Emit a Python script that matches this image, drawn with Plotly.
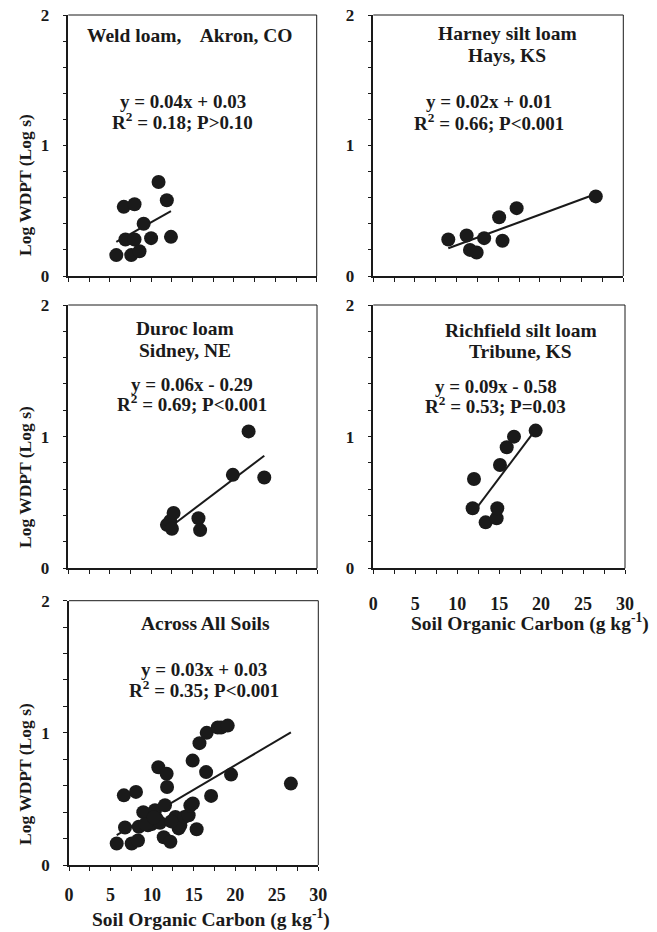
import numpy as np
import plotly.graph_objects as go

# ---------------- data ----------------
weld_x = [5.8, 6.7, 8.0, 6.9, 8.0, 7.6, 8.6, 9.1, 10.0, 10.9, 11.9, 12.4]
weld_y = [0.16, 0.53, 0.55, 0.28, 0.28, 0.16, 0.19, 0.40, 0.29, 0.72, 0.58, 0.30]

harney_x = [9.0, 11.2, 11.6, 12.4, 13.3, 15.1, 15.5, 17.2, 26.7]
harney_y = [0.28, 0.31, 0.20, 0.18, 0.29, 0.45, 0.27, 0.52, 0.61]

duroc_x = [11.9, 12.3, 12.5, 12.7, 15.7, 15.9, 19.85, 21.75, 23.64]
duroc_y = [0.33, 0.36, 0.30, 0.42, 0.38, 0.29, 0.71, 1.04, 0.69]

rich_x = [11.84, 12.0, 13.39, 14.7, 14.78, 15.1, 15.9, 16.77, 19.35]
rich_y = [0.456, 0.678, 0.349, 0.38, 0.456, 0.785, 0.919, 1.0, 1.046]

all_x = [5.74, 7.54, 8.3, 6.6, 8.06, 6.74, 8.4, 8.94, 9.5, 9.95, 10.35, 10.55,
         10.95, 11.55, 10.75, 11.75, 11.8, 11.4, 12.2, 12.8, 13.2, 13.4, 13.9,
         14.4, 14.6, 14.9, 15.36, 14.88, 15.7, 16.57, 16.5, 17.1, 17.9, 18.3,
         19.1, 19.5, 26.7, 12.3, 9.2, 10.2]
all_y = [0.163, 0.163, 0.185, 0.527, 0.553, 0.284, 0.289, 0.40, 0.30, 0.31,
         0.414, 0.35, 0.32, 0.452, 0.74, 0.69, 0.59, 0.21, 0.176, 0.364, 0.277,
         0.30, 0.364, 0.377, 0.45, 0.465, 0.27, 0.79, 0.922, 1.0, 0.703, 0.523,
         1.04, 1.04, 1.055, 0.684, 0.616, 0.33, 0.31, 0.36]

titles = [["Weld loam,    Akron, CO"],
          ["Harney silt loam", "Hays, KS"],
          ["Duroc loam", "Sidney, NE"],
          ["Richfield silt loam", "Tribune, KS"],
          ["Across All Soils"]]
equations = [["y = 0.04x + 0.03", "R<sup>2</sup> = 0.18; P>0.10"],
             ["y = 0.02x + 0.01", "R<sup>2</sup> = 0.66; P<0.001"],
             ["y = 0.06x - 0.29", "R<sup>2</sup> = 0.69; P<0.001"],
             ["y = 0.09x - 0.58", "R<sup>2</sup> = 0.53; P=0.03"],
             ["y = 0.03x + 0.03", "R<sup>2</sup> = 0.35; P<0.001"]]

y_title = "Log WDPT (Log s)"
x_title = "Soil Organic Carbon (g kg<sup>-1</sup>)"

# ---------------- layout geometry (pixels in the final page) ----------------
W, H = 657, 932
OFF = 8  # default page (body) margin in the browser
# (left, right, top, bottom) of each plot area in px (page coordinates)
boxes = [(68.3, 316.7, 15, 276),
         (373.3, 623.3, 15, 276),
         (68.3, 317.0, 305, 568.3),
         (373.3, 625.0, 305, 568.3),
         (69.0, 318.3, 600.7, 865)]


def px_x(v):
    return (v - OFF) / W


def px_y(v):
    return 1 - (v - OFF) / H


# annotation positions in data coords: (title x, title ys), (eq x, eq ys)
title_pos = [(14.7, [1.84]), (16.1, [1.86, 1.693]), (14.1, [1.823, 1.658]),
             (17.6, [1.81, 1.645]), (16.4, [1.829])]
eq_pos = [(13.8, [1.336, 1.19]), (13.9, [1.336, 1.182]), (14.9, [1.398, 1.253]),
          (14.6, [1.379, 1.24]), (16.3, [1.476, 1.33])]

datasets = [(weld_x, weld_y), (harney_x, harney_y), (duroc_x, duroc_y),
            (rich_x, rich_y), (all_x, all_y)]

FONT = "Liberation Serif"
INK = "#1a1a1a"

fig = go.Figure()
shapes = []
annotations = []

for i, ((xs, ys), (l, r, t, b)) in enumerate(zip(datasets, boxes)):
    n = i + 1
    xa = "x" if n == 1 else f"x{n}"
    ya = "y" if n == 1 else f"y{n}"
    xs_a = np.array(xs)
    ys_a = np.array(ys)
    k, c = np.polyfit(xs_a, ys_a, 1)
    lx = np.array([xs_a.min(), xs_a.max()])
    fig.add_trace(go.Scatter(x=lx, y=k * lx + c, mode="lines",
                             line=dict(color=INK, width=2),
                             xaxis=xa, yaxis=ya, showlegend=False,
                             hoverinfo="skip"))
    fig.add_trace(go.Scatter(x=xs, y=ys, mode="markers",
                             marker=dict(size=14, color=INK, line=dict(width=0)),
                             xaxis=xa, yaxis=ya, showlegend=False))

    show_xlab = n in (4, 5)
    axis_common = dict(showline=True, linecolor=INK, linewidth=1.5,
                       ticks="outside", tickcolor=INK, ticklen=4, tickwidth=1,
                       showgrid=False, zeroline=False, mirror=False,
                       automargin=False, ticklabeloverflow="allow",
                       tickfont=dict(family=FONT, size=17, color=INK, weight="bold"))
    xkey = "xaxis" if n == 1 else f"xaxis{n}"
    ykey = "yaxis" if n == 1 else f"yaxis{n}"
    fig.layout[xkey] = dict(axis_common, domain=[px_x(l), px_x(r)], range=[0, 30],
                            anchor=ya, dtick=5, tick0=0,
                            minor=dict(dtick=2.5, ticks="outside", ticklen=4,
                                       tickcolor=INK),
                            showticklabels=show_xlab,
                            ticklabelstandoff=(14 if n == 4 else 9))
    if show_xlab:
        fig.layout[xkey].tickfont = dict(family=FONT, size=18, color=INK, weight="bold")
    fig.layout[ykey] = dict(axis_common, domain=[px_y(b), px_y(t)], range=[0, 2],
                            anchor=xa, dtick=1, tick0=0,
                            minor=dict(dtick=0.2, ticks="outside", ticklen=4,
                                       tickcolor=INK),
                            ticklabelstandoff=10)
    # thin top and right frame lines
    shapes.append(dict(type="line", xref=f"{xa} domain", yref=f"{ya} domain",
                       x0=0, x1=1, y0=1, y1=1, line=dict(color=INK, width=1)))
    shapes.append(dict(type="line", xref=f"{xa} domain", yref=f"{ya} domain",
                       x0=1, x1=1, y0=0, y1=1, line=dict(color=INK, width=1)))

    tx, tys = title_pos[i]
    for txt, ty in zip(titles[i], tys):
        annotations.append(dict(x=tx, y=ty, xref=xa, yref=ya, text=txt,
                                showarrow=False, xanchor="center", yanchor="middle",
                                font=dict(family=FONT, size=19.5, color=INK, weight="bold")))
    ex, eys = eq_pos[i]
    for txt, ey in zip(equations[i], eys):
        annotations.append(dict(x=ex, y=ey, xref=xa, yref=ya, text=txt,
                                showarrow=False, xanchor="center", yanchor="middle",
                                font=dict(family=FONT, size=19, color=INK, weight="bold")))

# y-axis titles for left column
for cy in (185, 477, 774):
    annotations.append(dict(x=px_x(25), y=px_y(cy), xref="paper", yref="paper",
                            text=y_title, textangle=-90, showarrow=False,
                            xanchor="center", yanchor="middle",
                            font=dict(family=FONT, size=17.5, color=INK, weight="bold")))
# x-axis titles
for cx, cy in ((530, 622), (211, 918)):
    annotations.append(dict(x=px_x(cx), y=px_y(cy), xref="paper", yref="paper",
                            text=x_title, showarrow=False,
                            xanchor="center", yanchor="middle",
                            font=dict(family=FONT, size=19.5, color=INK, weight="bold")))

fig.update_layout(width=W, height=H, margin=dict(l=0, r=0, t=0, b=0),
                  paper_bgcolor="white", plot_bgcolor="white",
                  shapes=shapes, annotations=annotations, showlegend=False)

fig.write_html("out.html")
